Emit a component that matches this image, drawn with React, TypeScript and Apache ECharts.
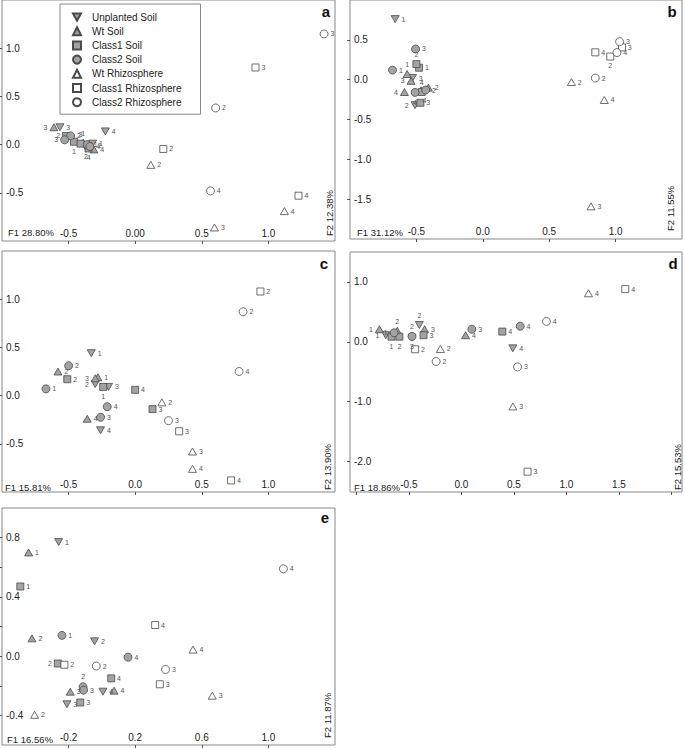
import React, { useEffect, useRef } from "react";
import * as echarts from "echarts";

const SERIES_NAMES = [
  "Unplanted Soil",
  "Wt Soil",
  "Class1 Soil",
  "Class2 Soil",
  "Wt Rhizosphere",
  "Class1 Rhizosphere",
  "Class2 Rhizosphere",
];

// [F1, F2, replicate]
const panelA: Record<string, number[][]> = {
  "Unplanted Soil": [[-0.32, 0.01, 1], [-0.37, -0.03, 2], [-0.565, 0.18, 3], [-0.224, 0.137, 4]],
  "Wt Soil": [[-0.39, 0.02, 1], [-0.33, -0.01, 2], [-0.61, 0.18, 3], [-0.31, -0.05, 4]],
  "Class1 Soil": [[-0.46, 0.03, 1], [-0.52, 0.09, 2], [-0.41, 0.01, 3], [-0.35, -0.04, 4]],
  "Class2 Soil": [[-0.36, 0.0, 1], [-0.485, 0.09, 2], [-0.53, 0.05, 3], [-0.34, -0.02, 4]],
  "Wt Rhizosphere": [[0.117, -0.21, 2], [0.595, -0.86, 3], [1.12, -0.69, 4]],
  "Class1 Rhizosphere": [[0.211, -0.045, 2], [0.903, 0.8, 3], [1.226, -0.53, 4]],
  "Class2 Rhizosphere": [[0.604, 0.38, 2], [1.418, 1.148, 3], [0.565, -0.48, 4]],
};

const panelB: Record<string, number[][]> = {
  "Unplanted Soil": [[-0.66, 0.76, 1], [-0.51, -0.32, 2], [-0.53, 0.02, 3], [-0.44, -0.14, 4]],
  "Wt Soil": [[-0.57, 0.07, 1], [-0.41, -0.1, 2], [-0.54, -0.015, 3], [-0.59, -0.155, 4]],
  "Class1 Soil": [[-0.48, 0.15, 1], [-0.5, 0.195, 2], [-0.47, -0.29, 3], [-0.46, -0.155, 4]],
  "Class2 Soil": [[-0.68, 0.12, 1], [-0.43, -0.13, 2], [-0.506, 0.385, 3], [-0.51, -0.16, 4]],
  "Wt Rhizosphere": [[0.667, -0.03, 2], [0.815, -1.59, 3], [0.915, -0.255, 4]],
  "Class1 Rhizosphere": [[0.96, 0.29, 2], [1.048, 0.405, 3], [0.847, 0.343, 4]],
  "Class2 Rhizosphere": [[0.847, 0.02, 2], [1.03, 0.477, 3], [1.01, 0.34, 4]],
};

const panelC: Record<string, number[][]> = {
  "Unplanted Soil": [[-0.33, 0.44, 1], [-0.3, 0.12, 2], [-0.2, 0.09, 3], [-0.26, -0.36, 4]],
  "Wt Soil": [[-0.28, 0.19, 1], [-0.58, 0.25, 2], [-0.3, 0.18, 3], [-0.36, -0.24, 4]],
  "Class1 Soil": [[-0.24, 0.09, 1], [-0.51, 0.17, 2], [0.13, -0.14, 3], [0.0, 0.06, 4]],
  "Class2 Soil": [[-0.67, 0.07, 1], [-0.5, 0.31, 2], [-0.26, -0.225, 3], [-0.21, -0.115, 4]],
  "Wt Rhizosphere": [[0.2, -0.07, 2], [0.43, -0.58, 3], [0.43, -0.76, 4]],
  "Class1 Rhizosphere": [[0.94, 1.08, 2], [0.33, -0.37, 3], [0.72, -0.88, 4]],
  "Class2 Rhizosphere": [[0.81, 0.87, 2], [0.25, -0.26, 3], [0.78, 0.25, 4]],
};

const panelD: Record<string, number[][]> = {
  "Unplanted Soil": [[-0.72, 0.11, 1], [-0.4, 0.28, 2], [-0.47, 0.07, 3], [0.49, -0.11, 4]],
  "Wt Soil": [[-0.78, 0.21, 1], [-0.61, 0.185, 2], [-0.35, 0.21, 3], [0.04, 0.11, 4]],
  "Class1 Soil": [[-0.665, 0.085, 1], [-0.59, 0.085, 2], [-0.36, 0.11, 3], [0.39, 0.17, 4]],
  "Class2 Soil": [[-0.64, 0.15, 1], [-0.47, 0.09, 2], [0.1, 0.21, 3], [0.56, 0.26, 4]],
  "Wt Rhizosphere": [[-0.2, -0.12, 2], [0.49, -1.08, 3], [1.21, 0.81, 4]],
  "Class1 Rhizosphere": [[-0.44, -0.125, 2], [0.63, -2.17, 3], [1.56, 0.88, 4]],
  "Class2 Rhizosphere": [[-0.24, -0.33, 2], [0.535, -0.42, 3], [0.81, 0.34, 4]],
};

const panelE: Record<string, number[][]> = {
  "Unplanted Soil": [[-0.26, 0.77, 1], [-0.044, 0.1, 2], [-0.21, -0.325, 3], [0.006, -0.24, 4]],
  "Wt Soil": [[-0.44, 0.7, 1], [-0.42, 0.12, 2], [-0.19, -0.24, 3], [0.073, -0.233, 4]],
  "Class1 Soil": [[-0.49, 0.47, 1], [-0.265, -0.05, 2], [-0.13, -0.313, 3], [0.056, -0.15, 4]],
  "Class2 Soil": [[-0.24, 0.14, 1], [-0.113, -0.207, 2], [-0.11, -0.23, 3], [0.157, -0.007, 4]],
  "Wt Rhizosphere": [[-0.404, -0.396, 2], [0.663, -0.267, 3], [0.547, 0.044, 4]],
  "Class1 Rhizosphere": [[-0.225, -0.058, 2], [0.348, -0.19, 3], [0.32, 0.21, 4]],
  "Class2 Rhizosphere": [[-0.034, -0.067, 2], [0.382, -0.09, 3], [1.09, 0.59, 4]],
};

const PANELS = [panelA, panelB, panelC, panelD, panelE];

// tick labels shown on each panel
const xTickLabels = [
  [-0.5, 0, 0.5, 1.0],
  [-0.5, 0, 0.5, 1.0],
  [-0.5, 0, 0.5, 1.0],
  [-0.5, 0, 0.5, 1.0, 1.5],
  [-0.2, 0.2, 0.6, 1.0],
];
const yTickLabels = [
  [-0.5, 0, 0.5, 1.0],
  [-1.5, -1.0, -0.5, 0, 0.5],
  [-0.5, 0, 0.5, 1.0],
  [-2.0, -1.0, 0, 1.0],
  [-0.4, 0, 0.4, 0.8],
];
const f1Labels = ["F1 28.80%", "F1 31.12%", "F1 15.81%", "F1 18.86%", "F1 16.56%"];
const f2Labels = ["F2 12.38%", "F2 11.55%", "F2 13.90%", "F2 15.53%", "F2 11.87%"];
const panelLetters = ["a", "b", "c", "d", "e"];

// layout / scale settings (not data)
const grids = [
  { left: 2, top: 0, width: 333, height: 241 },
  { left: 350, top: 0, width: 332, height: 239 },
  { left: 2, top: 251, width: 333, height: 241 },
  { left: 350, top: 252, width: 332, height: 240 },
  { left: 2, top: 508, width: 333, height: 237 },
];
const xScale: any[] = [
  { min: -1, max: 1.5, interval: 0.5 },
  { min: -1, max: 1.5, interval: 0.5 },
  { min: -1, max: 1.5, interval: 0.5 },
  { min: -1.06, max: 2.1, splitNumber: 6 },
  { min: -0.6, max: 1.4, interval: 0.4 },
];
const yScale: any[] = [
  { min: -1, max: 1.5, interval: 0.5 },
  { min: -2, max: 1, interval: 0.5 },
  { min: -1, max: 1.5, interval: 0.5 },
  { min: -2.51, max: 1.5, splitNumber: 4 },
  { min: -0.6, max: 1.0, interval: 0.2 },
];
const f1Pos = [[8, 232], [357, 232], [5, 487], [354, 487], [7, 739]];
const f2Pos = [[329, 236], [670, 231], [327, 490], [677, 490], [327, 738]];
const letterPos = [[326, 11], [672, 11], [324, 263], [673, 263], [325, 517]];

const labelPos: Record<string, string> = {
  "0|Wt Soil|3": "left",
  "0|Class2 Soil|3": "left",
  "0|Class1 Soil|2": "left",
  "0|Class1 Soil|1": "bottom",
  "0|Unplanted Soil|2": "bottom",
  "0|Class1 Soil|4": "bottom",
  "0|Class1 Soil|3": "top",
  "0|Wt Soil|1": "top",
  "1|Class1 Soil|2": "top",
  "1|Wt Soil|1": "top",
  "1|Wt Soil|3": "left",
  "1|Wt Soil|4": "left",
  "1|Class2 Soil|4": "bottom",
  "1|Class1 Soil|4": "top",
  "1|Unplanted Soil|4": "bottom",
  "1|Unplanted Soil|2": "left",
  "1|Class1 Rhizosphere|2": "bottom",
  "2|Wt Soil|3": "left",
  "2|Unplanted Soil|2": "left",
  "2|Class1 Soil|1": "bottom",
  "3|Wt Soil|1": "left",
  "3|Unplanted Soil|1": "left",
  "3|Class2 Soil|1": "left",
  "3|Class1 Soil|1": "bottom",
  "3|Class1 Soil|2": "bottom",
  "3|Unplanted Soil|3": "bottom",
  "3|Class2 Soil|2": "top",
  "3|Unplanted Soil|2": "top",
  "3|Wt Soil|2": "top",
  "4|Class1 Soil|2": "left",
  "4|Class2 Soil|2": "top",
};

const FONT = "'Liberation Sans', Arial, sans-serif";
const DOWN_TRI = "path://M0,0L10,0L5,9Z";
const FILL = "#a3a3a3";
const STROKE = "#4a4a4a";

const symbolFor: Record<string, any> = {
  "Unplanted Soil": { symbol: DOWN_TRI, size: [8, 7], fill: FILL },
  "Wt Soil": { symbol: "triangle", size: [8, 7], fill: FILL },
  "Class1 Soil": { symbol: "rect", size: 7, fill: FILL },
  "Class2 Soil": { symbol: "circle", size: 8, fill: FILL },
  "Wt Rhizosphere": { symbol: "triangle", size: [8, 7], fill: "#ffffff" },
  "Class1 Rhizosphere": { symbol: "rect", size: 7, fill: "#ffffff" },
  "Class2 Rhizosphere": { symbol: "circle", size: 8, fill: "#ffffff" },
};

const pointLabel = {
  show: true,
  distance: 2,
  fontSize: 7,
  color: "#555",
  fontFamily: FONT,
  formatter: (p: any) => String(p.value[2]),
};

function fmtFor(panel: number, axis: "x" | "y") {
  const list = axis === "x" ? xTickLabels[panel] : yTickLabels[panel];
  return (v: number) => {
    if (!list.some((l) => Math.abs(l - v) < 1e-6)) return "";
    if (panel === 0 && axis === "x" && Math.abs(v) < 1e-9) return "0.00";
    return (Math.abs(v) < 1e-9 ? 0 : v).toFixed(1);
  };
}

export default function App() {
  const ref = useRef<HTMLDivElement>(null);
  useEffect(() => {
    if (!ref.current) return;
    const chart = echarts.init(ref.current, undefined, { renderer: "svg" });

    const axisCommon = (i: number, dim: "x" | "y", margin: number) => ({
      type: "value",
      gridIndex: i,
      axisLine: { show: false, onZero: false },
      splitLine: { show: false },
      axisTick: { show: true, length: 3, lineStyle: { color: "#555" } },
      axisLabel: {
        inside: true,
        margin,
        fontSize: 10,
        color: "#222",
        fontFamily: FONT,
        formatter: fmtFor(i, dim),
        showMinLabel: false,
        showMaxLabel: false,
      },
    });

    const xAxis = grids.map((_, i) => ({ ...axisCommon(i, "x", 3), ...xScale[i] }));
    const yAxis = grids.map((_, i) => ({ ...axisCommon(i, "y", 4), ...yScale[i] }));

    const series: any[] = [];
    PANELS.forEach((panel, pi) => {
      SERIES_NAMES.forEach((name) => {
        const s = symbolFor[name];
        series.push({
          type: "scatter",
          name,
          xAxisIndex: pi,
          yAxisIndex: pi,
          symbol: s.symbol,
          symbolSize: s.size,
          itemStyle: { color: s.fill, borderColor: STROKE, borderWidth: 0.8, opacity: 1 },
          label: { ...pointLabel, position: "right" },
          emphasis: { disabled: true },
          data: (panel[name] || []).map((d) => {
            const key = `${pi}|${name}|${d[2]}`;
            const item: any = { value: d };
            if (labelPos[key]) item.label = { ...pointLabel, position: labelPos[key] };
            return item;
          }),
        });
      });
    });

    const graphic: any[] = [];
    grids.forEach((_, i) => {
      graphic.push({
        type: "text",
        x: f1Pos[i][0],
        y: f1Pos[i][1],
        style: { text: f1Labels[i], fontSize: 9.5, fill: "#222", fontFamily: FONT, align: "left", verticalAlign: "middle" },
        z: 10,
      });
      graphic.push({
        type: "text",
        x: f2Pos[i][0],
        y: f2Pos[i][1],
        rotation: Math.PI / 2,
        style: { text: f2Labels[i], fontSize: 9.5, fill: "#222", fontFamily: FONT, align: "left", verticalAlign: "middle" },
        z: 10,
      });
      graphic.push({
        type: "text",
        x: letterPos[i][0],
        y: letterPos[i][1],
        style: { text: panelLetters[i], fontSize: 15, fontWeight: "bold", fill: "#111", fontFamily: FONT, align: "center", verticalAlign: "middle" },
        z: 10,
      });
    });

    chart.setOption({
      animation: false,
      backgroundColor: "#ffffff",
      grid: grids.map((g) => ({ ...g, show: true, borderColor: "#888", borderWidth: 1, backgroundColor: "transparent", containLabel: false })),
      xAxis,
      yAxis,
      legend: {
        data: SERIES_NAMES,
        left: 60,
        top: 4,
        orient: "vertical",
        borderColor: "#888",
        borderWidth: 1,
        backgroundColor: "#ffffff",
        padding: [7, 19, 6, 12],
        itemWidth: 8,
        itemHeight: 8,
        itemGap: 2.2,
        selectedMode: false,
        textStyle: { fontSize: 10, lineHeight: 12, color: "#222", fontFamily: FONT, padding: [0, 0, 0, 6] },
      },
      graphic,
      series,
    });
    return () => chart.dispose();
  }, []);
  return (
    <div
      ref={ref}
      style={{ position: "fixed", left: 0, top: 0, width: 685, height: 749, background: "#fff" }}
    />
  );
}
